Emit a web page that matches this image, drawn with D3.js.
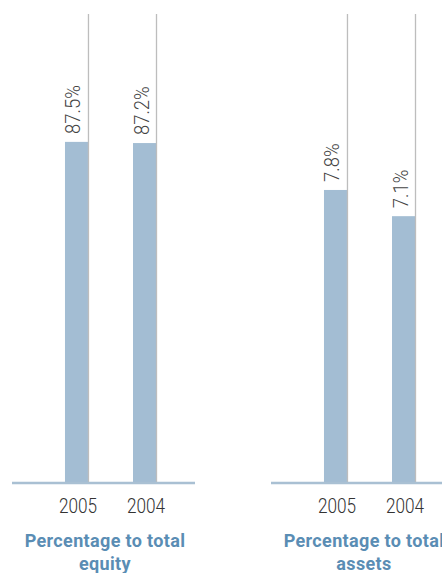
<!DOCTYPE html>
<html><head><meta charset="utf-8">
<script src="https://cdn.jsdelivr.net/npm/d3@7"></script>
<style>body{margin:0;background:#fff;} svg{display:block;}</style>
</head><body>
<script>
const years = ["2005", "2004"];
const equityValues = [87.5, 87.2];
const assetsValues = [7.8, 7.1];
const panelTitles = [["Percentage to total", "equity"], ["Percentage to total", "assets"]];
const panelMax = [120.4, 12.5];

const W = 442, H = 573;
const svg = d3.select("body").append("svg").attr("width", W).attr("height", H);

const panels = [
  {values: equityValues, title: panelTitles[0], max: panelMax[0], x0: 12, fmt: d => d.toFixed(1) + "%"},
  {values: assetsValues, title: panelTitles[1], max: panelMax[1], x0: 271, fmt: d => d.toFixed(1) + "%"}
];
const baseY = 482, topY = 14, pw = 183;

panels.forEach(p => {
  const g = svg.append("g").attr("transform", `translate(${p.x0},0)`);
  const x = d3.scaleBand().domain(years).range([0, pw])
    .paddingInner(0.662).paddingOuter(0.676).align(0.576);
  const y = d3.scaleLinear().domain([0, p.max]).range([baseY, topY]);
  const data = years.map((yr, i) => ({yr, v: p.values[i]}));

  g.selectAll("rect.bar").data(data).join("rect")
    .attr("x", d => x(d.yr)).attr("width", x.bandwidth())
    .attr("y", d => y(d.v)).attr("height", d => y(0) - y(d.v))
    .attr("fill", "#a3bdd3");

  g.selectAll("line.grid").data(data).join("line")
    .attr("x1", d => x(d.yr) + x.bandwidth() + 0.5).attr("x2", d => x(d.yr) + x.bandwidth() + 0.5)
    .attr("y1", y(p.max)).attr("y2", y(0))
    .attr("stroke", "#bdbdbd").attr("stroke-width", 1.3);

  g.append("line").attr("x1", 0).attr("x2", pw).attr("y1", baseY + 1).attr("y2", baseY + 1)
    .attr("stroke", "#a9c0d3").attr("stroke-width", 2.5);

  g.selectAll("text.val").data(data).join("text")
    .attr("transform", d => `translate(${x(d.yr) + 15.5},${y(d.v) - 8}) rotate(-90) scale(0.88,1)`)
    .attr("font-family", "Roboto").attr("font-weight", 300).attr("font-size", 21)
    .attr("fill", "#444").text(d => p.fmt(d.v));

  g.selectAll("text.yr").data(data).join("text")
    .attr("transform", d => `translate(${x(d.yr) + x.bandwidth() / 2 + 1.5},513) scale(0.86,1)`)
    .attr("text-anchor", "middle")
    .attr("font-family", "Roboto").attr("font-weight", 300).attr("font-size", 20)
    .attr("fill", "#333").text(d => d.yr);

  g.selectAll("text.title").data(p.title).join("text")
    .attr("x", 93).attr("y", (d, i) => 547 + i * 23)
    .attr("text-anchor", "middle")
    .attr("font-family", "Roboto").attr("font-weight", 700).attr("font-size", 18)
    .attr("letter-spacing", 0.35)
    .attr("fill", "#5a8db4").text(d => d);
});
</script>
</body></html>
